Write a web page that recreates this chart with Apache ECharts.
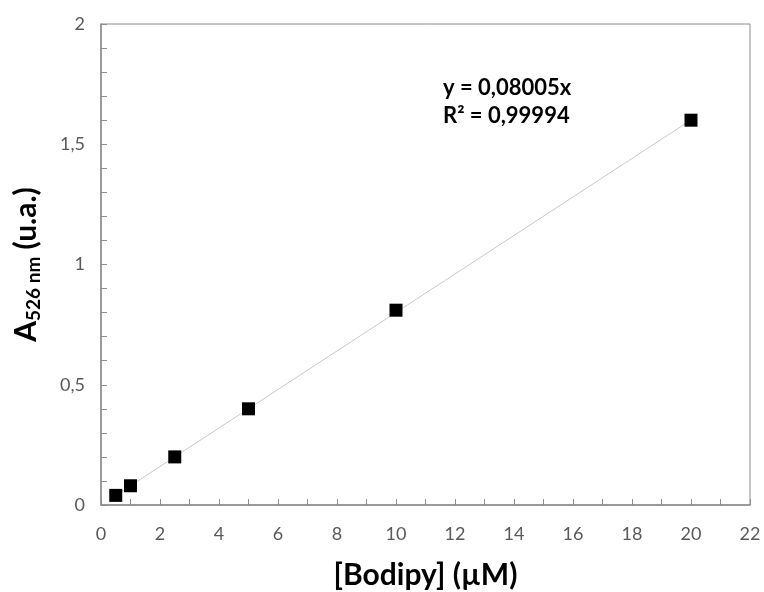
<!DOCTYPE html>
<html>
<head>
<meta charset="utf-8">
<script src="https://cdn.jsdelivr.net/npm/echarts@6/dist/echarts.min.js"></script>
<style>
  html, body { margin: 0; padding: 0; background: #fff; }
  #main { width: 764px; height: 592px; }
</style>
</head>
<body>
<div id="main"></div>
<script>
// concentrations (µM) and absorbance at 526 nm
const conc = [0.5, 1, 2.5, 5, 10, 20];
const absorb = [0.04, 0.08, 0.2, 0.4, 0.81, 1.6];
// linear fit through origin, as printed on the chart
const slope = 0.08005;
const r2 = '0,99994';
const fitRange = [0.5, 20];

const font = 'Lato, "Open Sans", sans-serif';
let chart = echarts.init(document.getElementById('main'));

const points = conc.map((c, i) => [c, absorb[i]]);
const fit = fitRange.map(x => [x, x * slope]);

const option = {
    animation: false,
    grid: {
        left: 101, right: 14, top: 24, bottom: 87,
        outerBoundsMode: 'none',
        containLabel: false,
        show: true,
        borderColor: '#8c8c8c',
        borderWidth: 1
    },
    xAxis: {
        type: 'value',
        min: 0, max: 22, interval: 2,
        name: '[Bodipy] (µM)',
        nameLocation: 'middle',
        nameGap: 55,
        nameTextStyle: { fontFamily: font, fontSize: 30, fontWeight: 'bold', color: '#000' },
        axisLine: { lineStyle: { color: '#8c8c8c', width: 1.5 } },
        axisTick: { inside: true, length: 6, lineStyle: { color: '#8c8c8c' } },
        minorTick: { show: true, splitNumber: 2, length: 6, lineStyle: { color: '#8c8c8c' } },
        axisLabel: { fontFamily: font, fontSize: 18, color: '#595959', margin: 20 },
        splitLine: { show: false }
    },
    yAxis: {
        type: 'value',
        min: 0, max: 2, interval: 0.5,
        name: '{a|A}{s|526 nm}{a| (u.a.)}',
        nameLocation: 'middle',
        nameRotate: 90,
        nameGap: 58,
        nameTextStyle: {
            rich: {
                a: { fontFamily: font, fontSize: 30, fontWeight: 'bold', color: '#000' },
                s: { fontFamily: font, fontSize: 19, fontWeight: 'bold', color: '#000', padding: [14, 0, 0, 0] }
            }
        },
        axisLine: { show: true, lineStyle: { color: '#8c8c8c', width: 1.5 } },
        axisTick: { show: true, inside: true, length: 6, lineStyle: { color: '#8c8c8c' } },
        minorTick: { show: true, splitNumber: 5, length: 6, lineStyle: { color: '#8c8c8c' } },
        axisLabel: {
            fontFamily: font, fontSize: 18, color: '#595959', margin: 16,
            formatter: v => String(v).replace('.', ',')
        },
        splitLine: { show: false }
    },
    graphic: [{
        type: 'text',
        left: 443, top: 74,
        style: {
            text: 'y = ' + String(slope).replace('.', ',') + 'x\nR² = ' + r2,
            font: 'bold 22px ' + font,
            fill: '#000',
            lineHeight: 28
        }
    }],
    series: [
        {
            type: 'line',
            data: fit,
            symbol: 'none',
            lineStyle: { color: '#c8c8c8', width: 1 },
            z: 1
        },
        {
            type: 'scatter',
            data: points,
            symbol: 'rect',
            symbolSize: 13,
            itemStyle: { color: '#000', opacity: 1 },
            z: 2
        }
    ]
};
chart.setOption(option);
</script>
</body>
</html>
